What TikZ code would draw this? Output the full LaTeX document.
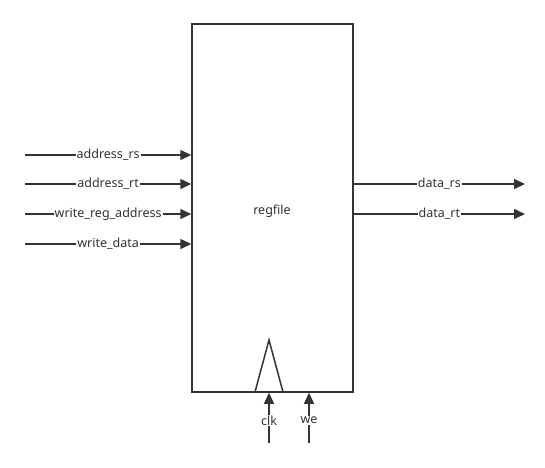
\documentclass[tikz,border=0pt]{standalone}
\usepackage{fontspec}
\setmainfont{Noto Sans}
\usetikzlibrary{arrows.meta}

\tikzset{
    wire/.style = {line width = 1.5pt, draw = black!80, -{Triangle[length = 11pt, width = 10pt]}},
    sig/.style = {fill = white, inner sep = 1pt, text = black!80, font = \fontsize{12.5}{15}\selectfont},
}

\begin{document}
\begin{tikzpicture}[x = 1pt, y = -1pt]
    \useasboundingbox (0, 0) rectangle (545, 467);

    % register file block
    \node [draw = black!80, line width = 1.5pt, minimum width = 161pt, minimum height = 368pt, inner sep = 0pt] (regfile) at (272.5, 208) {};
    \node [sig, fill = none] (title) at (272, 211) {regfile};

    % inputs
    \coordinate (rsin) at (25, 155);
    \coordinate (rtin) at (25, 184);
    \coordinate (wain) at (25, 214);
    \coordinate (wdin) at (25, 244);
    \draw [wire] (rsin) -- (rsin -| regfile.west) node [midway, sig] {address\_rs};
    \draw [wire] (rtin) -- (rtin -| regfile.west) node [midway, sig] {address\_rt};
    \draw [wire] (wain) -- (wain -| regfile.west) node [midway, sig] {write\_reg\_address};
    \draw [wire] (wdin) -- (wdin -| regfile.west) node [midway, sig] {write\_data};

    % outputs
    \coordinate (rsout) at (525, 184);
    \coordinate (rtout) at (525, 214);
    \draw [wire] (rsout -| regfile.east) -- (rsout) node [midway, sig] {data\_rs};
    \draw [wire] (rtout -| regfile.east) -- (rtout) node [midway, sig] {data\_rt};

    % clock edge mark
    \coordinate (clkl) at (255, 392);
    \coordinate (clkt) at (269, 340);
    \coordinate (clkr) at (283, 392);
    \draw [line width = 1.5pt, draw = black!80] (clkl) -- (clkt) -- (clkr);

    % clk and we
    \coordinate (clkin) at (269, 443);
    \coordinate (wein) at (309, 443);
    \draw [wire] (clkin) -- (clkin |- regfile.south) node [pos = .45, sig] {clk};
    \draw [wire] (wein) -- (wein |- regfile.south) node [pos = .45, sig] {we};
\end{tikzpicture}
\end{document}
